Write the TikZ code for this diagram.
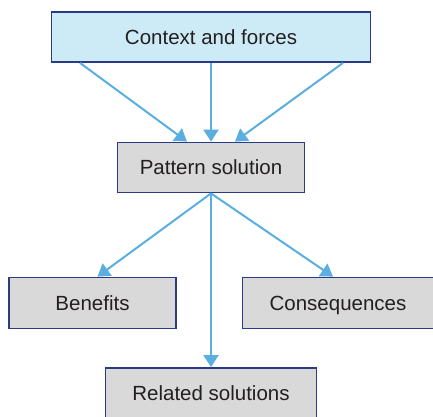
\documentclass[tikz,border=0pt]{standalone}
\usepackage{fontspec}
\setmainfont{Liberation Sans}
\usetikzlibrary{arrows.meta}
\definecolor{navy}{HTML}{2B3A86}
\definecolor{arrowblue}{HTML}{5AAEE0}
\definecolor{ctxfill}{HTML}{CDEBF6}
\definecolor{boxgray}{HTML}{D9D9D9}
\definecolor{txt}{HTML}{231F20}
\begin{document}
\begin{tikzpicture}[x=1pt,y=-1pt,
  box/.style={draw=navy,line width=1.8pt,fill=boxgray,inner sep=0pt,
    font=\fontsize{20.5}{24}\selectfont,text=txt,minimum height=50pt,
    text height=17pt,text depth=3pt},
  conn/.style={draw=arrowblue,line width=2pt,-{Triangle[length=12pt,width=15pt]}}]
\useasboundingbox (0,0) rectangle (433,416);
\node[box,fill=ctxfill,minimum width=319pt] (ctx) at (211,37) {Context and forces};
\node[box,minimum width=187pt] (pat) at (211,167.5) {Pattern solution};
\node[box,minimum width=167pt,minimum height=51pt] (ben) at (92.5,303) {Benefits};
\node[box,minimum width=191pt,minimum height=51pt] (con) at (338,303) {Consequences};
\node[box,minimum width=211pt] (rel) at (211,393) {Related solutions};
\draw[conn] ([xshift=-131pt]ctx.south) -- ([xshift=-24pt]pat.north);
\draw[conn] (ctx.south) -- (pat.north);
\draw[conn] ([xshift=132pt]ctx.south) -- ([xshift=24pt]pat.north);
\draw[conn] (pat.south) -- ([xshift=5pt]ben.north);
\draw[conn] (pat.south) -- ([xshift=-5pt]con.north);
\draw[conn] (pat.south) -- (rel.north);
\end{tikzpicture}
\end{document}
